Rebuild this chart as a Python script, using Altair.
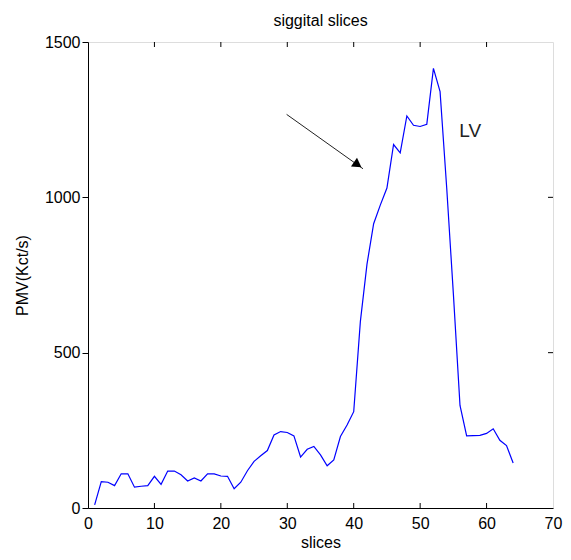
import altair as alt
import pandas as pd

# ---- data ----
slices = list(range(1, 65))
pmv = [10, 85, 83, 72, 110, 110, 67, 70, 72, 102,
       76, 119, 119, 107, 87, 97, 87, 110, 110, 103,
       102, 62, 83, 120, 150, 168, 185, 235, 246, 243,
       232, 164, 189, 198, 171, 136, 155, 230, 267, 310,
       600, 785, 915, 975, 1030, 1170, 1143, 1262, 1232, 1228,
       1235, 1415, 1340, 1030, 690, 330, 232, 233, 234, 240,
       255, 218, 201, 145]

x_ticks = [0, 10, 20, 30, 40, 50, 60, 70]
y_ticks = [0, 500, 1000, 1500]

arrow_x = [29.9, 41.4]
arrow_y = [1267, 1092]
head_x = [40.6]
head_y = [1105]
label_x = [55.9]
label_y = [1215]
label_text = ["LV"]

FONT = "Liberation Sans"
W, H = 465, 466
TICK = 5

df = pd.DataFrame({"slice": slices, "pmv": pmv})
xs = alt.Scale(domain=[0, 70], nice=False, zero=False)
ys = alt.Scale(domain=[0, 1500], nice=False)

line = alt.Chart(df).mark_line(color="#0000ff", strokeWidth=1.2).encode(
    x=alt.X("slice:Q", scale=xs, title="slices",
            axis=alt.Axis(values=x_ticks, ticks=False, grid=False, labelPadding=7,
                          labelFontSize=16, labelFont=FONT, labelColor="black",
                          titleFont=FONT, titleFontSize=16, titleFontWeight="normal",
                          titleColor="black", titlePadding=3, domainColor="black",
                          labelFlush=False, format="d")),
    y=alt.Y("pmv:Q", scale=ys, title="PMV(Kct/s)",
            axis=alt.Axis(values=y_ticks, ticks=True, tickSize=6, tickColor="black",
                          grid=False, labelPadding=2,
                          labelFontSize=16, labelFont=FONT, labelColor="black",
                          titleFont=FONT, titleFontSize=16, titleFontWeight="normal",
                          titleColor="black", titlePadding=14, domainColor="black",
                          labelFlush=False, format="d")),
)

# inward ticks (MATLAB box style)
xt = pd.DataFrame({"slice": x_ticks[1:-1]})
yt = pd.DataFrame({"pmv": y_ticks[1:-1]})

bticks = alt.Chart(xt).mark_rule(color="black", strokeWidth=1).encode(
    x=alt.X("slice:Q", scale=xs), y=alt.value(H), y2=alt.value(H - TICK))
tticks = alt.Chart(xt).mark_rule(color="black", strokeWidth=1).encode(
    x=alt.X("slice:Q", scale=xs), y=alt.value(0), y2=alt.value(TICK))
rticks = alt.Chart(yt).mark_rule(color="black", strokeWidth=1).encode(
    y=alt.Y("pmv:Q", scale=ys), x=alt.value(W), x2=alt.value(W - TICK))

arrow_df = pd.DataFrame({"slice": arrow_x, "pmv": arrow_y})
arrow = alt.Chart(arrow_df).mark_line(color="#222222", strokeWidth=1).encode(
    x=alt.X("slice:Q", scale=xs), y=alt.Y("pmv:Q", scale=ys))

head_df = pd.DataFrame({"slice": head_x, "pmv": head_y})
head = alt.Chart(head_df).mark_point(shape="triangle-up", filled=True, color="black",
                                     opacity=1, size=110, angle=125).encode(
    x=alt.X("slice:Q", scale=xs), y=alt.Y("pmv:Q", scale=ys))

lab_df = pd.DataFrame({"slice": label_x, "pmv": label_y, "t": label_text})
lab = alt.Chart(lab_df).mark_text(align="left", baseline="middle", font=FONT,
                                  fontSize=19, color="#222222").encode(
    x=alt.X("slice:Q", scale=xs), y=alt.Y("pmv:Q", scale=ys), text="t:N")

chart = alt.layer(line, bticks, tticks, rticks, arrow, head, lab).properties(
    width=W, height=H,
    title=alt.TitleParams("siggital slices", font=FONT, fontSize=16, fontWeight="normal",
                          color="black", anchor="middle", offset=5),
    autosize=alt.AutoSizeParams(type="none"),
    padding={"left": 80, "top": 34, "right": 10, "bottom": 44},
).configure_view(stroke="black", strokeWidth=1).configure(background="white")

chart.save("out.html", embed_options={"renderer": "svg", "actions": False})
